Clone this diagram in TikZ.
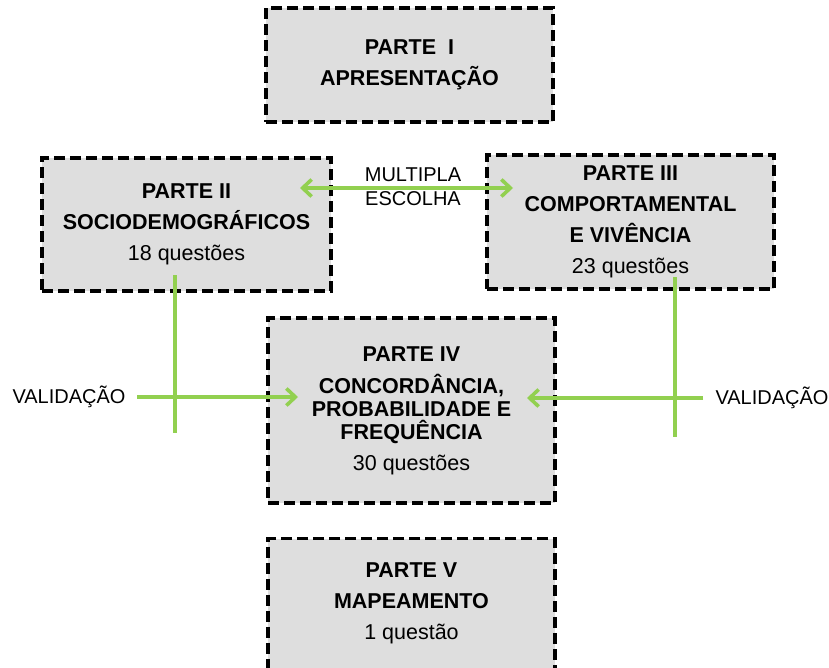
\documentclass[tikz,border=0pt]{standalone}
\usepackage{fontspec}
\setmainfont{Liberation Sans}
\usetikzlibrary{arrows.meta}
\definecolor{boxfill}{RGB}{222,222,222}
\definecolor{lgreen}{RGB}{146,208,80}
\tikzset{
  partbox/.style={draw=black, fill=boxfill, line width=3.3pt, dash pattern=on 11pt off 5pt,
    inner sep=0pt, align=center, font=\fontsize{21.5}{31}\selectfont},
  gline/.style={draw=lgreen, line width=3.6pt},
  garrow/.style={gline, -{Straight Barb[length=9pt,width=17pt,line width=3.6pt]}},
  lbl/.style={font=\fontsize{20}{24}\selectfont, align=center, inner sep=0pt}
}
\begin{document}
\begin{tikzpicture}[x=1pt,y=-1pt]
\useasboundingbox (0,0) rectangle (829,667);
% boxes
\node[partbox, minimum width=287pt, minimum height=114pt] (p1) at (409.5,65)
  {\textbf{PARTE\ \ I}\\\textbf{APRESENTAÇÃO}};
\node[partbox, minimum width=289pt, minimum height=133pt] (p2) at (186.5,224.5)
  {\textbf{PARTE II}\\\textbf{SOCIODEMOGRÁFICOS}\\18 questões};
\node[partbox, minimum width=287pt, minimum height=134pt] (p3) at (630.5,222)
  {\textbf{PARTE III}\\\textbf{COMPORTAMENTAL}\\\textbf{E VIVÊNCIA}\\23 questões};
\node[partbox, minimum width=287pt, minimum height=185pt, font=\fontsize{21.5}{23}\selectfont] (p4) at (411.5,410.5)
  {\textbf{PARTE IV}\\[9pt]\textbf{CONCORDÂNCIA,}\\\textbf{PROBABILIDADE E}\\\textbf{FREQUÊNCIA}\\[8pt]30 questões};
\node[partbox, minimum width=287pt, minimum height=170pt, anchor=north] (p5) at (411.5,537) {};
\node[lbl, font=\fontsize{21.5}{31}\selectfont] (p5t) at (411.5,603)
  {\textbf{PARTE V}\\\textbf{MAPEAMENTO}\\1 questão};
% labels
\node[lbl] (mult) at (413,187) {MULTIPLA\\ESCOLHA};
\node[lbl] (valL) at (69,397) {VALIDAÇÃO};
\node[lbl] (valR) at (772,398) {VALIDAÇÃO};
% coordinates
\coordinate (mA) at (300,188);
\coordinate (mB) at (513,188);
\coordinate (l1) at (175,275);
\coordinate (l2) at (175,433);
\coordinate (lh1) at (137,397);
\coordinate (lh2) at (298,397);
\coordinate (r1) at (675,277);
\coordinate (r2) at (675,437);
\coordinate (rh1) at (703,398);
\coordinate (rh2) at (527,398);
% connectors
\draw[gline, {Straight Barb[length=9pt,width=17pt,line width=3.6pt]}-{Straight Barb[length=9pt,width=17pt,line width=3.6pt]}] (mA) -- (mB);
\draw[gline] (l1) -- (l2);
\draw[garrow] (lh1) -- (lh2);
\draw[gline] (r1) -- (r2);
\draw[garrow] (rh1) -- (rh2);
\end{tikzpicture}
\end{document}
